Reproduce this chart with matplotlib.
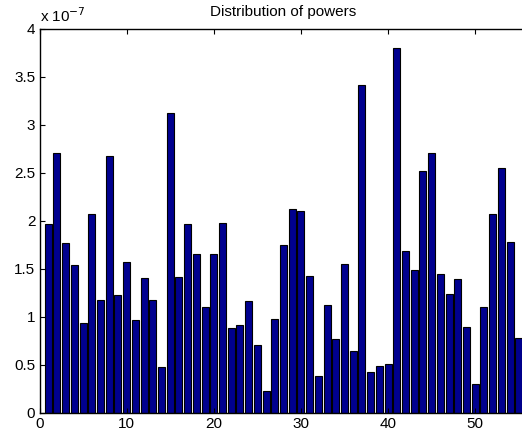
import matplotlib
matplotlib.use("Agg")
import matplotlib.pyplot as plt
import numpy as np

# power values, in units of 1e-7
powers = [1.97, 2.70, 1.77, 1.54, 0.94, 2.07, 1.18, 2.67, 1.23, 1.57,
          0.97, 1.40, 1.18, 0.48, 3.12, 1.42, 1.97, 1.65, 1.10, 1.65,
          1.98, 0.88, 0.92, 1.16, 0.71, 0.23, 0.98, 1.75, 2.12, 2.10,
          1.43, 0.39, 1.12, 0.77, 1.55, 0.65, 3.41, 0.43, 0.49, 0.51,
          3.80, 1.69, 1.49, 2.52, 2.70, 1.45, 1.24, 1.39, 0.89, 0.30,
          1.10, 2.07, 2.55, 1.78, 0.78]
xticks = [0, 10, 20, 30, 40, 50]
yticks = [0, 0.5, 1, 1.5, 2, 2.5, 3, 3.5, 4]
title = "Distribution of powers"

plt.rcParams['font.family'] = ['Liberation Sans', 'DejaVu Sans']

W, H = 522, 438
fig = plt.figure(figsize=(W / 100, H / 100), dpi=100)
# axes runs past the right edge, like the cropped original
left, right, bottom, top = 39.5, 527.5, 413, 28.5
ax = fig.add_axes([left / W, (H - bottom) / H, (right - left) / W, (bottom - top) / H])

idx = np.arange(1, len(powers) + 1)
ax.bar(idx, powers, width=0.8, color='#00008f', edgecolor='black', linewidth=0.8)

ax.set_xlim(0, 56)
ax.set_ylim(0, 4)
ax.set_xticks(xticks)
ax.set_yticks(yticks)
ax.set_yticklabels(['0', '0.5', '1', '1.5', '2', '2.5', '3', '3.5', '4'])
ax.tick_params(direction='in', length=3.5, width=0.8, top=True, right=True,
               labelsize=11, colors='black', pad=3)
for s in ax.spines.values():
    s.set_linewidth(1.0)

ax.set_title(title, fontsize=11, pad=9)
fig.text(40 / W, (H - 22) / H, r'x 10$^{-7}$', fontsize=11, va='baseline', ha='left')

fig.savefig('out.png', dpi=100)
